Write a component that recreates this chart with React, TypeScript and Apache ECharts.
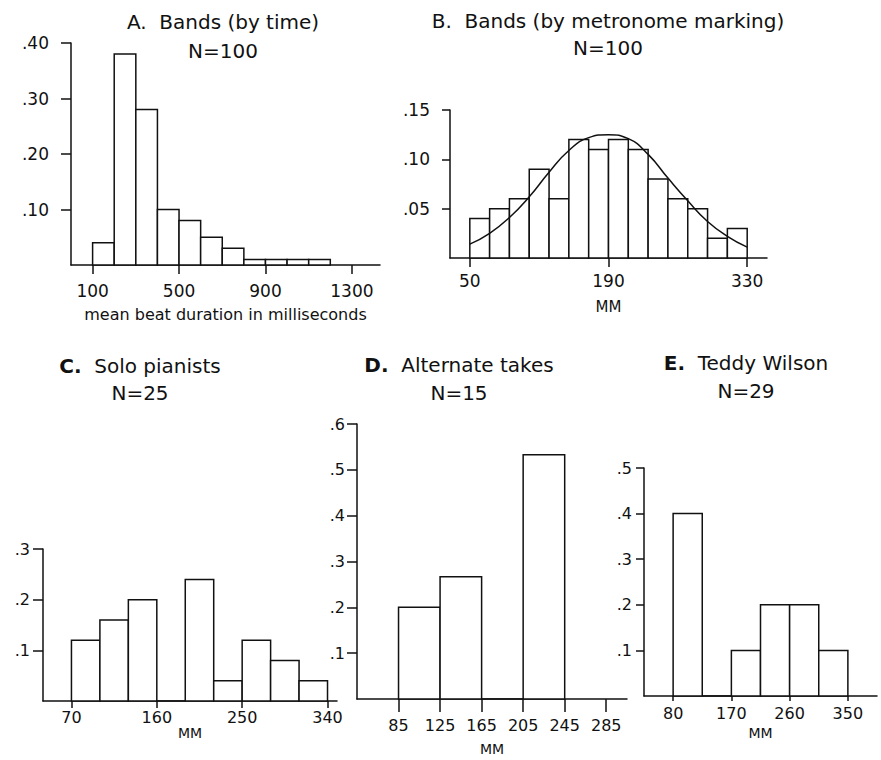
import React, { useEffect, useRef } from "react";
import * as echarts from "echarts";

const FONT = "'DejaVu Sans', Verdana, sans-serif";

// A. Bands (by time): bin edges in milliseconds and relative frequencies
const edgesA = [100, 200, 300, 400, 500, 600, 700, 800, 900, 1000, 1100, 1200];
const freqA = [0.04, 0.38, 0.28, 0.1, 0.08, 0.05, 0.03, 0.01, 0.01, 0.01, 0.01];
const ticksA = [100, 500, 900, 1300];
const yTicksA = [0.1, 0.2, 0.3, 0.4];

// B. Bands (by metronome marking): bins of 20 MM, with the fitted curve
const edgesB = [50, 70, 90, 110, 130, 150, 170, 190, 210, 230, 250, 270, 290, 310, 330];
const freqB = [0.04, 0.05, 0.06, 0.09, 0.06, 0.12, 0.11, 0.12, 0.11, 0.08, 0.06, 0.05, 0.02, 0.03];
const curveXB = [50, 70, 90, 110, 130, 150, 170, 190, 210, 230, 250, 270, 290, 310, 330];
const curveYB = [0.014, 0.025, 0.041, 0.062, 0.087, 0.109, 0.122, 0.125, 0.121, 0.105, 0.081, 0.058, 0.037, 0.022, 0.011];
const ticksB = [50, 190, 330];
const yTicksB = [0.05, 0.1, 0.15];

// C. Solo pianists
const edgesC = [70, 100, 130, 160, 190, 220, 250, 280, 310, 340];
const freqC = [0.12, 0.16, 0.2, 0, 0.24, 0.04, 0.12, 0.08, 0.04];
const ticksC = [70, 160, 250, 340];
const yTicksC = [0.1, 0.2, 0.3];

// D. Alternate takes
const edgesD = [85, 125, 165, 205, 245];
const freqD = [0.2, 0.267, 0, 0.533];
const ticksD = [85, 125, 165, 205, 245, 285];
const yTicksD = [0.1, 0.2, 0.3, 0.4, 0.5, 0.6];

// E. Teddy Wilson
const edgesE = [80, 125, 170, 215, 260, 305, 350];
const freqE = [0.4, 0, 0.1, 0.2, 0.2, 0.1];
const ticksE = [80, 170, 260, 350];
const yTicksE = [0.1, 0.2, 0.3, 0.4, 0.5];

type Panel = {
  letter: string;
  boldLetter: boolean;
  title: string;
  n: string;
  edges: number[];
  freq: number[];
  ticks: number[];
  yTicks: number[];
  decimals: number;
  xMin: number;
  xMax: number;
  axisName: string;
  nameGap: number;
  nameSize: number;
  labelSize: number;
  xTickLen: number;
  xLabelMargin: number;
  yTickLen: number;
  yLabelMargin: number;
  grid: { left: number; top: number; width: number; height: number };
  titleX: number;
  titleY: number;
  nY: number;
};

const panels: Panel[] = [
  {
    letter: "A.", boldLetter: false, title: "Bands (by time)", n: "N=100",
    edges: edgesA, freq: freqA, ticks: ticksA, yTicks: yTicksA, decimals: 2,
    xMin: 0, xMax: 1430, axisName: "mean beat duration in milliseconds", nameGap: 41, nameSize: 16,
    labelSize: 17, xTickLen: 9, xLabelMargin: 17, yTickLen: 10, yLabelMargin: 22,
    grid: { left: 71, top: 43, width: 309, height: 222 },
    titleX: 223, titleY: 22, nY: 51,
  },
  {
    letter: "B.", boldLetter: false, title: "Bands (by metronome marking)", n: "N=100",
    edges: edgesB, freq: freqB, ticks: ticksB, yTicks: yTicksB, decimals: 2,
    xMin: 30, xMax: 350, axisName: "MM", nameGap: 41, nameSize: 15,
    labelSize: 17, xTickLen: 9, xLabelMargin: 14, yTickLen: 8, yLabelMargin: 20,
    grid: { left: 450, top: 110, width: 317, height: 148 },
    titleX: 608, titleY: 21, nY: 48,
  },
  {
    letter: "C.", boldLetter: true, title: "Solo pianists", n: "N=25",
    edges: edgesC, freq: freqC, ticks: ticksC, yTicks: yTicksC, decimals: 1,
    xMin: 40, xMax: 350, axisName: "MM", nameGap: 24, nameSize: 14,
    labelSize: 16, xTickLen: 7, xLabelMargin: 8, yTickLen: 10, yLabelMargin: 13,
    grid: { left: 43, top: 549, width: 294, height: 152 },
    titleX: 140, titleY: 366, nY: 393,
  },
  {
    letter: "D.", boldLetter: true, title: "Alternate takes", n: "N=15",
    edges: edgesD, freq: freqD, ticks: ticksD, yTicks: yTicksD, decimals: 1,
    xMin: 45, xMax: 305, axisName: "MM", nameGap: 43, nameSize: 14,
    labelSize: 16, xTickLen: 13, xLabelMargin: 18, yTickLen: 10, yLabelMargin: 12,
    grid: { left: 357, top: 424, width: 270, height: 275 },
    titleX: 459, titleY: 365, nY: 393,
  },
  {
    letter: "E.", boldLetter: true, title: "Teddy Wilson", n: "N=29",
    edges: edgesE, freq: freqE, ticks: ticksE, yTicks: yTicksE, decimals: 1,
    xMin: 35, xMax: 395, axisName: "MM", nameGap: 30, nameSize: 14,
    labelSize: 16, xTickLen: 5, xLabelMargin: 9, yTickLen: 8, yLabelMargin: 12,
    grid: { left: 644, top: 468, width: 233, height: 228 },
    titleX: 746, titleY: 363, nY: 391,
  },
];

const INK = "#111";
const TITLE_SIZE = 20;

function histogramData(edges: number[], freq: number[]) {
  return freq.map((v, i) => [edges[i], edges[i + 1], v]);
}

export default function App() {
  const ref = useRef<HTMLDivElement>(null);

  useEffect(() => {
    if (!ref.current) return;
    const chart = echarts.init(ref.current, null, { renderer: "svg" });

    const grids = panels.map((p) => ({ ...p.grid, containLabel: false }));

    const xAxes = panels.map((p, i) => ({
      type: "value",
      gridIndex: i,
      min: p.xMin,
      max: p.xMax,
      splitLine: { show: false },
      axisLine: { show: true, onZero: false, lineStyle: { color: INK, width: 1.5 } },
      axisTick: {
        show: true,
        customValues: p.ticks,
        length: p.xTickLen,
        lineStyle: { color: INK, width: 1.5 },
      },
      axisLabel: {
        customValues: p.ticks,
        color: INK,
        fontFamily: FONT,
        fontSize: p.labelSize,
        margin: p.xLabelMargin,
        formatter: (v: number) => String(v),
      },
      name: p.axisName,
      nameLocation: "middle",
      nameGap: p.nameGap,
      nameTextStyle: { color: INK, fontFamily: FONT, fontSize: p.nameSize, verticalAlign: "top" },
    }));

    const yAxes = panels.map((p, i) => ({
      type: "value",
      gridIndex: i,
      min: 0,
      max: p.yTicks[p.yTicks.length - 1],
      splitLine: { show: false },
      axisLine: { show: true, lineStyle: { color: INK, width: 1.5 } },
      axisTick: {
        show: true,
        customValues: p.yTicks,
        length: p.yTickLen,
        lineStyle: { color: INK, width: 1.5 },
      },
      axisLabel: {
        customValues: p.yTicks,
        color: INK,
        fontFamily: FONT,
        fontSize: p.labelSize,
        margin: p.yLabelMargin,
        formatter: (v: number) => v.toFixed(p.decimals).replace(/^0/, ""),
      },
    }));

    const series: any[] = panels.map((p, i) => ({
      type: "custom",
      xAxisIndex: i,
      yAxisIndex: i,
      encode: { x: [0, 1], y: 2 },
      data: histogramData(p.edges, p.freq),
      renderItem: (_params: any, api: any) => {
        const topLeft = api.coord([api.value(0), api.value(2)]);
        const bottomRight = api.coord([api.value(1), 0]);
        return {
          type: "rect",
          shape: {
            x: topLeft[0],
            y: topLeft[1],
            width: bottomRight[0] - topLeft[0],
            height: bottomRight[1] - topLeft[1],
          },
          style: { fill: "#fff", stroke: INK, lineWidth: 1.5 },
        };
      },
      silent: true,
    }));

    // fitted curve over the metronome-marking histogram
    series.push({
      type: "line",
      xAxisIndex: 1,
      yAxisIndex: 1,
      data: curveXB.map((x, k) => [x, curveYB[k]]),
      smooth: 0.5,
      showSymbol: false,
      lineStyle: { color: INK, width: 1.5 },
      z: 5,
      silent: true,
    });

    const graphic: any[] = [];
    panels.forEach((p) => {
      graphic.push({
        type: "text",
        x: p.titleX,
        y: p.titleY,
        style: {
          text: `{b|${p.letter}}  ${p.title}`,
          align: "center",
          verticalAlign: "middle",
          fontFamily: FONT,
          fontSize: TITLE_SIZE,
          fill: INK,
          rich: {
            b: {
              fontFamily: FONT,
              fontSize: TITLE_SIZE,
              fontWeight: p.boldLetter ? "bold" : "normal",
              fill: INK,
            },
          },
        },
      });
      graphic.push({
        type: "text",
        x: p.titleX,
        y: p.nY,
        style: {
          text: p.n,
          align: "center",
          verticalAlign: "middle",
          fontFamily: FONT,
          fontSize: TITLE_SIZE,
          fill: INK,
        },
      });
    });

    chart.setOption({
      animation: false,
      backgroundColor: "#fff",
      grid: grids,
      xAxis: xAxes,
      yAxis: yAxes,
      series,
      graphic,
    });

    return () => chart.dispose();
  }, []);

  return (
    <div
      ref={ref}
      style={{ position: "fixed", left: 0, top: 0, width: 881, height: 760, background: "#fff" }}
    />
  );
}
